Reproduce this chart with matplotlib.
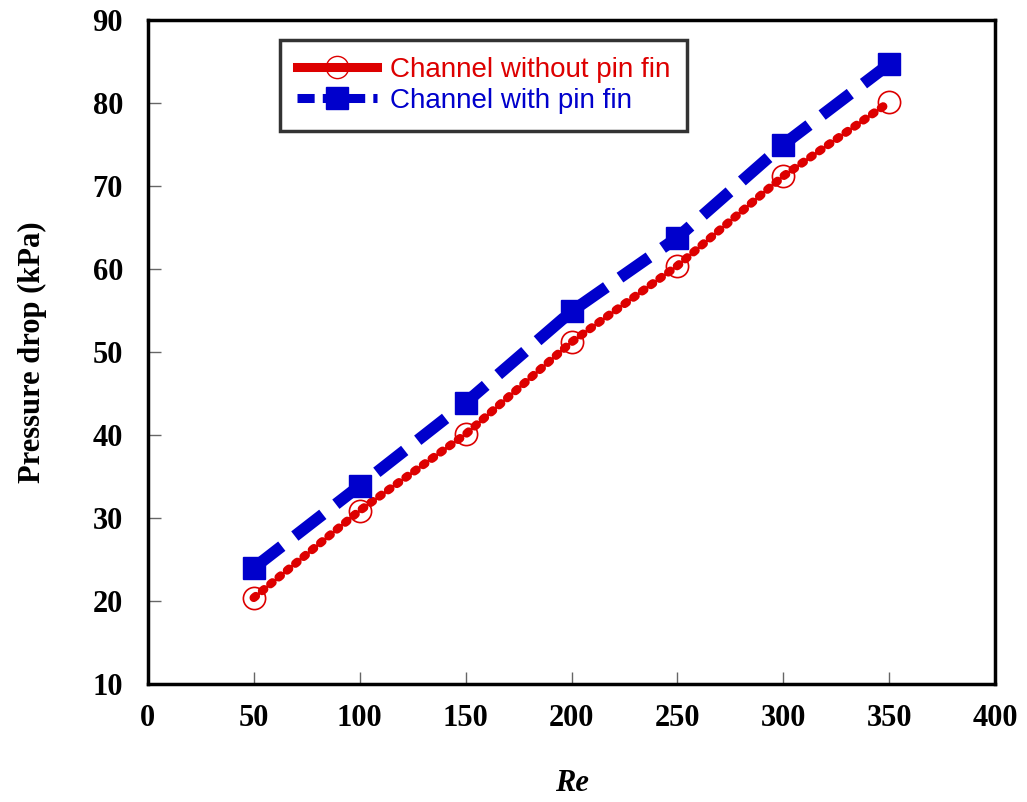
import matplotlib
matplotlib.use("Agg")
import matplotlib.pyplot as plt
from matplotlib.lines import Line2D

re_vals = [50, 100, 150, 200, 250, 300, 350]
dp_without = [20.4, 30.9, 40.1, 51.2, 60.4, 71.2, 80.1]
dp_with = [24.0, 33.9, 43.9, 54.9, 63.8, 75.0, 84.7]

red = "#dd0000"
blue = "#0000cc"

fig = plt.figure(figsize=(10.27, 8.02), dpi=100)
ax = fig.add_axes([0.144, 0.147, 0.825, 0.828])

# red: beaded (dotted) line plus open circles
ax.plot(re_vals, dp_without, color=red, linewidth=6.2,
        linestyle=(0, (0.3, 0.95)), dash_capstyle="round", zorder=3)
ax.plot(re_vals, dp_without, linestyle="", marker="o", markersize=16,
        markerfacecolor="none", markeredgecolor=red, markeredgewidth=1.2, zorder=4)

# blue: thick dashed line with squares
ax.plot(re_vals, dp_with, color=blue, linewidth=8.5,
        linestyle=(0, (3.0, 1.4)), marker="s", markersize=16,
        markerfacecolor=blue, markeredgecolor=blue, zorder=3)

ax.set_xlim(0, 400)
ax.set_ylim(10, 90)
ax.set_xticks(range(0, 401, 50))
ax.set_yticks(range(10, 91, 10))

for s in ax.spines.values():
    s.set_linewidth(2.5)
ax.tick_params(direction="in", length=9, width=1, color="#666666")
ax.tick_params(axis="x", pad=14)
ax.tick_params(axis="y", pad=18)
for lab in ax.get_xticklabels() + ax.get_yticklabels():
    lab.set_fontfamily("Liberation Serif")
    lab.set_fontweight("bold")
    lab.set_fontsize(22)

ax.set_xlabel("Re", fontfamily="Liberation Serif", fontweight="bold",
              fontstyle="italic", fontsize=22, labelpad=26)
ax.set_ylabel("Pressure drop (kPa)", fontfamily="Liberation Serif",
              fontweight="bold", fontsize=22, labelpad=33)

handles = [
    Line2D([], [], color=red, linewidth=6.5, marker="o", markersize=16,
           markerfacecolor="none", markeredgecolor=red, markeredgewidth=1),
    Line2D([], [], color=blue, linewidth=6.5, linestyle=(0, (1.9, 0.9)),
           marker="s", markersize=16, markerfacecolor=blue, markeredgecolor=blue),
]
leg = ax.legend(handles, ["Channel without pin fin", "Channel with pin fin"],
                loc="upper left", bbox_to_anchor=(0.156, 0.97),
                prop={"family": "Liberation Sans", "size": 20},
                frameon=True, fancybox=False, edgecolor="black",
                handlelength=2.9, handletextpad=0.45, borderpad=0.6,
                labelspacing=0.2, borderaxespad=0)
leg.get_frame().set_linewidth(2.5)
for t, c in zip(leg.get_texts(), [red, blue]):
    t.set_color(c)

fig.savefig("out.png", dpi=100)
